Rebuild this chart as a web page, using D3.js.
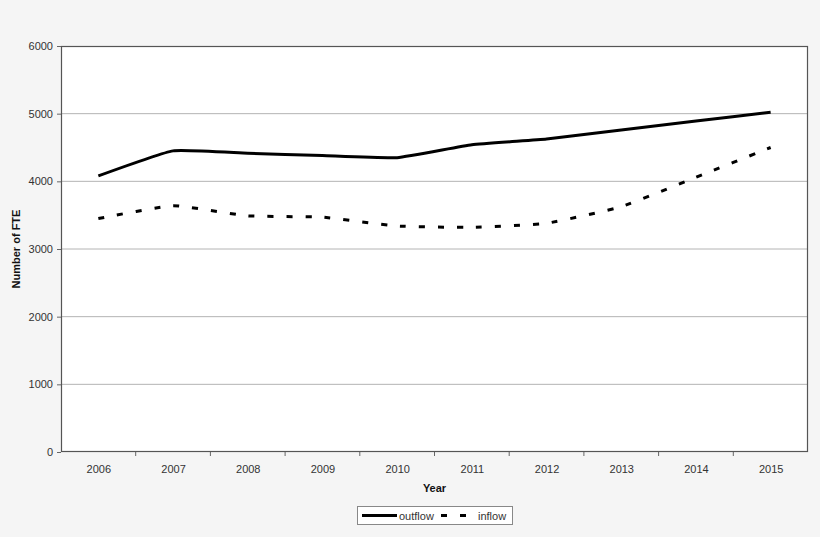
<!DOCTYPE html>
<html><head><meta charset="utf-8">
<script src="https://cdn.jsdelivr.net/npm/d3@7"></script>
<style>
html,body{margin:0;padding:0;background:#f5f5f5;}
svg{display:block;font-family:"Liberation Sans",Arial,sans-serif;}
</style></head>
<body>
<svg id="chart" width="820" height="537"></svg>
<script>
const years = ["2006","2007","2008","2009","2010","2011","2012","2013","2014","2015"];
const outflow = [4080, 4450, 4415, 4380, 4350, 4540, 4625, 4760, 4890, 5020];
const inflow  = [3450, 3640, 3490, 3470, 3340, 3320, 3380, 3625, 4060, 4500];
const yTicks = [0, 1000, 2000, 3000, 4000, 5000, 6000];

const svg = d3.select("#chart");
const m = {left: 61, right: 808, top: 46, bottom: 452};

const x = d3.scalePoint().domain(years).range([m.left, m.right]).padding(0.5);
const xb = d3.scaleBand().domain(years).range([m.left, m.right]);
const y = d3.scaleLinear().domain([0, 6000]).range([m.bottom, m.top]);

svg.append("rect").attr("x", m.left).attr("y", m.top)
  .attr("width", m.right - m.left).attr("height", m.bottom - m.top).attr("fill", "#fff");

// grid
svg.append("g").selectAll("line").data(yTicks.slice(1, -1)).join("line")
  .attr("x1", m.left).attr("x2", m.right)
  .attr("y1", d => y(d)).attr("y2", d => y(d))
  .attr("stroke", "#b4b4b4").attr("stroke-width", 1);

// y axis
const ya = svg.append("g").attr("transform", `translate(${m.left},0)`)
  .call(d3.axisLeft(y).tickValues(yTicks).tickSize(4).tickPadding(4).tickFormat(d3.format("d")));
ya.select(".domain").remove();
ya.selectAll("line").attr("stroke", "#666");
ya.selectAll("text").attr("font-size", 11).attr("fill", "#333").attr("font-family", "Liberation Sans, Arial, sans-serif");

// x axis
const xa = svg.append("g").attr("transform", `translate(0,${m.bottom})`)
  .call(d3.axisBottom(x).tickSize(0).tickPadding(13));
xa.select(".domain").remove();
xa.selectAll("text").attr("font-size", 11).attr("fill", "#333").attr("font-family", "Liberation Sans, Arial, sans-serif");
svg.append("g").selectAll("line").data(years.slice(1)).join("line")
  .attr("x1", d => xb(d)).attr("x2", d => xb(d))
  .attr("y1", m.bottom).attr("y2", m.bottom + 4)
  .attr("stroke", "#666");

// border
svg.append("rect").attr("x", m.left + 0.5).attr("y", m.top + 0.5)
  .attr("width", m.right - m.left - 1).attr("height", m.bottom - m.top - 1)
  .attr("fill", "none").attr("stroke", "#555").attr("stroke-width", 1.2);

const line = d3.line().x((d, i) => x(years[i])).y(d => y(d)).curve(d3.curveCardinal.tension(0.6));

svg.append("path").datum(outflow).attr("d", line)
  .attr("fill", "none").attr("stroke", "#000").attr("stroke-width", 3);
svg.append("path").datum(inflow).attr("d", line)
  .attr("fill", "none").attr("stroke", "#000").attr("stroke-width", 3)
  .attr("stroke-dasharray", "6,13");

// titles
svg.append("text").attr("x", (m.left + m.right) / 2).attr("y", 492)
  .attr("text-anchor", "middle").attr("font-size", 11).attr("font-weight", "bold").attr("fill", "#111").text("Year");
svg.append("text").attr("transform", `translate(20,${(m.top + m.bottom) / 2}) rotate(-90)`)
  .attr("text-anchor", "middle").attr("font-size", 11).attr("font-weight", "bold").attr("fill", "#111").text("Number of FTE");

// legend
const lg = svg.append("g");
lg.append("rect").attr("x", 357.5).attr("y", 506.5).attr("width", 155).attr("height", 18)
  .attr("fill", "#fff").attr("stroke", "#888");
lg.append("line").attr("x1", 362).attr("x2", 397).attr("y1", 515.5).attr("y2", 515.5)
  .attr("stroke", "#000").attr("stroke-width", 3);
lg.append("text").attr("x", 399).attr("y", 519.5).attr("font-size", 11).attr("fill", "#333").text("outflow");
lg.append("line").attr("x1", 441).attr("x2", 472).attr("y1", 515.5).attr("y2", 515.5)
  .attr("stroke", "#000").attr("stroke-width", 3).attr("stroke-dasharray", "6,13");
lg.append("text").attr("x", 478).attr("y", 519.5).attr("font-size", 11).attr("fill", "#333").text("inflow");
</script>
</body></html>
